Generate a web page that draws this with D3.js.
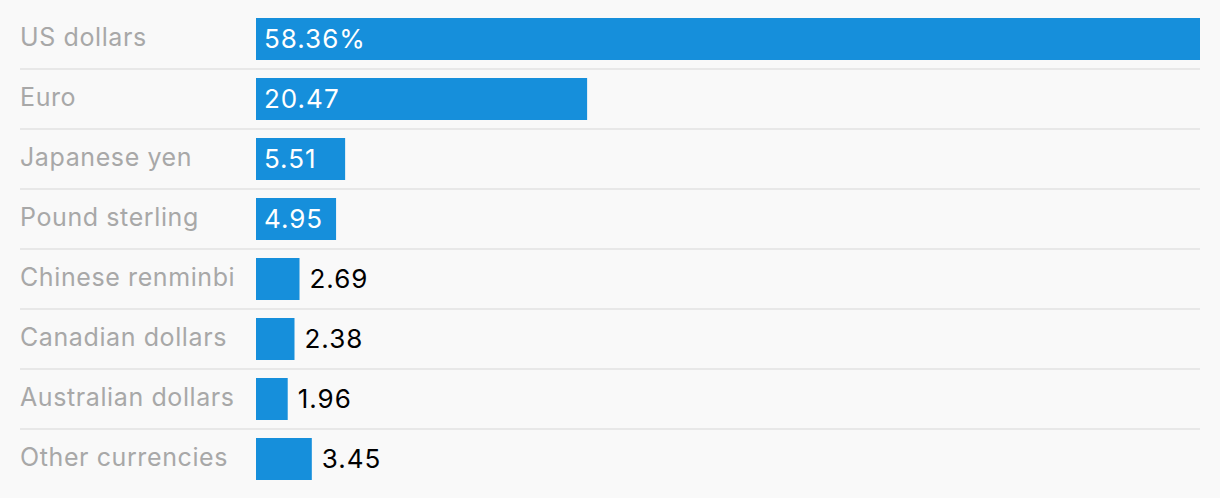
<!DOCTYPE html>
<meta charset="utf-8">
<title>Currency composition of reserves</title>
<style>
body {
  margin: 0px;
  background-color: #f9f9f9;
}
svg {
  display: block;
  background-color: #f9f9f9;
}
</style>
<body>
<script src="https://cdn.jsdelivr.net/npm/d3@7"></script>
<script>

var currencies = ["US dollars", "Euro", "Japanese yen", "Pound sterling",
  "Chinese renminbi", "Canadian dollars", "Australian dollars", "Other currencies"];
var shares = [58.36, 20.47, 5.51, 4.95, 2.69, 2.38, 1.96, 3.45];

var width = 1220, height = 498;
var rowTop = 18, rowStep = 60, barHeight = 42;

var svg = d3.select("body").append("svg")
    .attr("width", width)
    .attr("height", height);

var x = d3.scaleLinear()
    .domain([0, d3.max(shares)])
    .range([256, 1200]);

var y = d3.scaleBand()
    .domain(currencies)
    .range([rowTop, rowTop + rowStep * currencies.length])
    .paddingInner(0)
    .paddingOuter(0);

var rows = svg.selectAll("g.row")
    .data(currencies)
  .enter().append("g")
    .attr("class", "row")
    .attr("transform", function(d) { return "translate(0," + y(d) + ")"; });

// separator under every row but the last
rows.filter(function(d, i) { return i < currencies.length - 1; })
  .append("rect")
    .attr("x", 20)
    .attr("y", 50)
    .attr("width", 1180)
    .attr("height", 2)
    .attr("fill", "#e8e8e8");

rows.append("text")
    .attr("x", 20)
    .attr("y", 28)
    .attr("fill", "#a8a8a8")
    .style("font", "25px Inter, sans-serif")
    .style("letter-spacing", "0.6px")
    .text(function(d) { return d; });

rows.append("rect")
    .attr("x", x(0))
    .attr("y", 0)
    .attr("width", function(d, i) { return x(shares[i]) - x(0); })
    .attr("height", barHeight)
    .attr("fill", "#168fdb");

rows.append("text")
    .attr("y", 30)
    .style("font", "26px Inter, sans-serif")
    .style("letter-spacing", "1px")
    .text(function(d, i) { return i === 0 ? shares[i].toFixed(2) + "%" : shares[i].toFixed(2); })
    .each(function(d, i) {
      var t = d3.select(this);
      var w = this.getComputedTextLength();
      var bw = x(shares[i]) - x(0);
      if (bw > w + 14) {
        t.attr("x", x(0) + 8).attr("fill", "#ffffff");
      } else {
        t.attr("x", x(shares[i]) + 10).attr("fill", "#000000");
      }
    });

</script>
